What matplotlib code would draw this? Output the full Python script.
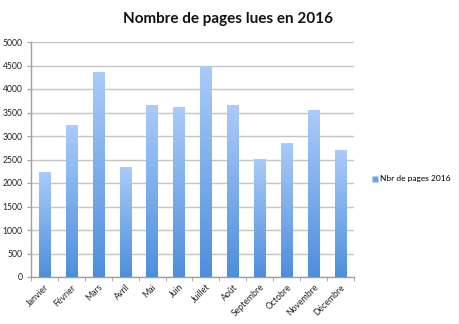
import matplotlib
matplotlib.use("Agg")
import matplotlib.pyplot as plt
import numpy as np
from matplotlib.colors import LinearSegmentedColormap
from matplotlib.lines import Line2D

months = ["Janvier", "Février", "Mars", "Avril", "Mai", "Juin", "Juillet",
          "Août", "Septembre", "Octobre", "Novembre", "Décembre"]
pages = [2230, 3230, 4370, 2340, 3660, 3610, 4500, 3650, 2520, 2860, 3560, 2700]
series_name = "Nbr de pages 2016"
title = "Nombre de pages lues en 2016"
yticks = [0, 500, 1000, 1500, 2000, 2500, 3000, 3500, 4000, 4500, 5000]

plt.rcParams['font.family'] = ['Lato', 'DejaVu Sans']

fig = plt.figure(figsize=(4.6, 3.24), dpi=100)
ax = fig.add_axes([31/460, 1 - 277/324, (354-31)/460, (277-42)/324])

x = np.arange(len(months))
bars = ax.bar(x, pages, width=0.42, color="none", edgecolor="none", zorder=3)

cmap = LinearSegmentedColormap.from_list("g", ["#4d8fdc", "#abcbfa"])
grad = np.linspace(0, 1, 256).reshape(-1, 1)
for b in bars:
    x0, y0 = b.get_x(), b.get_y()
    w, h = b.get_width(), b.get_height()
    im = ax.imshow(grad, cmap=cmap, origin="lower", aspect="auto",
                   extent=[x0, x0 + w, y0, y0 + h], zorder=3)
    im.set_clip_path(b)

ax.set_xlim(-0.5, len(months) - 0.5)
ax.set_ylim(0, 5000)
ax.set_yticks(yticks)
ax.set_yticklabels([str(v) for v in yticks], fontsize=6.2, color="#222222")
ax.yaxis.grid(True, color="#c4c4c4", linewidth=1, zorder=0)
ax.set_axisbelow(True)

ax.set_xticks(x)
ax.set_xticklabels(months, rotation=45, ha="right", rotation_mode="anchor",
                   fontsize=6.2, color="#222222")
ax.tick_params(axis="x", which="major", length=0, pad=4)
ax.set_xticks(np.arange(-0.5, len(months)), minor=True)
ax.tick_params(axis="x", which="minor", length=3, color="#a0a0a0", direction="out")
ax.tick_params(axis="y", length=3, color="#a0a0a0", pad=3)

for s in ["top", "right"]:
    ax.spines[s].set_visible(False)
for s in ["left", "bottom"]:
    ax.spines[s].set_color("#a0a0a0")
    ax.spines[s].set_linewidth(1)

fig.text(228/460, 1 - 19/324, title, ha="center", va="center",
         fontsize=11, fontweight="bold", color="#111111")

handle = Line2D([], [], marker="s", linestyle="none", markersize=4,
                markerfacecolor="#6fa3e8", markeredgecolor="none")
fig.legend([handle], [series_name], loc="center left",
           bbox_to_anchor=(368/460, 1 - 179/324), frameon=False,
           fontsize=6, handlelength=0.6, handletextpad=0.3, borderpad=0)

fig.add_artist(Line2D([459.5/460, 459.5/460], [0, 1], color="#c8c8c8",
                      linewidth=1, transform=fig.transFigure))

fig.savefig("out.png", dpi=100)
